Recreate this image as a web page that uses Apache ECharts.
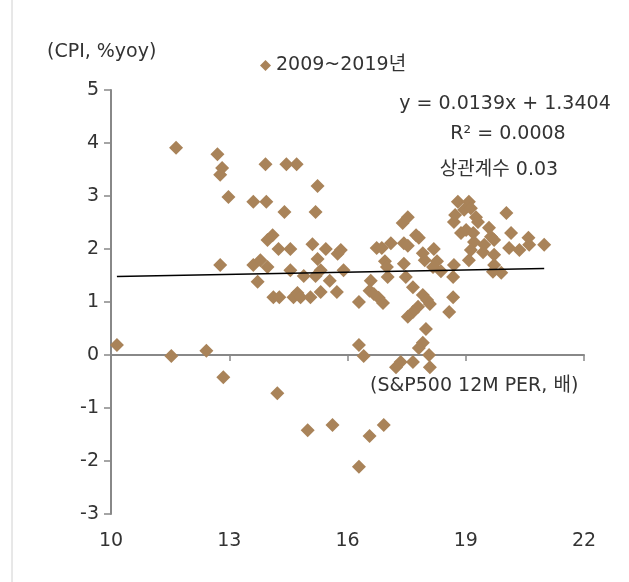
<!DOCTYPE html>
<html>
<head>
<meta charset="utf-8">
<script src="https://cdn.jsdelivr.net/npm/echarts@6/dist/echarts.min.js"></script>
<style>html,body{margin:0;padding:0;background:#fff}#c{width:629px;height:582px}</style>
</head>
<body>
<div id="c"></div>
<script>
// S&P500 12M PER (x) and CPI %yoy (y), 2009~2019
const perValues = [
10.15,11.65,11.53,12.42,12.70,12.82,12.77,12.77,12.85,12.98,
13.61,13.94,13.92,13.61,13.79,13.97,13.72,14.10,13.97,14.22,
14.25,14.12,14.27,14.40,14.45,14.71,14.55,14.55,14.63,14.73,
14.81,14.89,14.99,15.06,15.11,15.19,15.24,15.19,15.24,15.32,
15.32,15.45,15.55,15.62,15.73,15.83,15.75,15.90,16.29,16.29,
16.41,16.29,16.56,16.92,17.40,17.53,17.74,17.81,16.74,16.87,
17.10,17.43,17.53,17.91,17.96,18.19,18.27,18.17,16.95,17.00,
17.43,18.70,18.37,17.02,17.48,18.68,16.59,17.66,16.56,16.67,
16.79,16.90,17.91,18.02,18.09,18.68,17.79,17.66,17.53,18.58,
17.99,17.91,17.81,18.07,17.35,17.23,17.66,18.09,18.80,19.08,
18.96,19.13,18.70,19.26,19.31,20.03,18.88,19.01,19.19,19.21,
19.59,19.64,20.15,20.10,19.13,19.44,19.47,19.72,20.36,20.59,
20.61,20.99,19.72,19.08,19.72,19.90,19.69,18.73
];
const cpiValues = [
0.19,3.91,-0.02,0.08,3.79,3.53,3.40,1.70,-0.42,2.98,
2.89,2.89,3.60,1.70,1.79,1.66,1.38,2.26,2.17,-0.72,
2.00,1.09,1.09,2.70,3.60,3.60,2.00,1.60,1.09,1.17,
1.09,1.49,-1.42,1.09,2.09,2.70,3.19,1.49,1.81,1.60,
1.19,2.00,1.40,-1.32,1.19,1.98,1.91,1.60,1.00,0.19,
-0.02,-2.11,-1.53,-1.32,2.49,2.60,2.26,2.21,2.02,2.02,
2.11,2.11,2.06,1.92,1.79,2.00,1.77,1.66,1.77,1.66,
1.72,1.70,1.58,1.47,1.47,1.47,1.40,1.28,1.21,1.15,
1.08,0.98,1.13,1.04,0.96,1.09,0.91,0.81,0.72,0.81,
0.49,0.23,0.13,0.00,-0.13,-0.23,-0.13,-0.23,2.89,2.89,
2.74,2.77,2.51,2.60,2.51,2.68,2.30,2.36,2.30,2.13,
2.40,2.23,2.30,2.02,1.98,1.94,2.08,2.17,1.98,2.21,
2.08,2.08,1.89,1.79,1.70,1.55,1.57,2.64
];
const xTicks = [10, 13, 16, 19, 22];
const yTicks = [-3, -2, -1, 0, 1, 2, 3, 4, 5];
const trendSlope = 0.0139;
const trendIntercept = 1.3404;
const seriesName = '2009~2019년';
const eqText = 'y = 0.0139x + 1.3404';
const r2Text = 'R² = 0.0008';
const corrText = '상관계수 0.03';

const scatterData = perValues.map((x, i) => [x, cpiValues[i]]);
const xMinData = Math.min(...perValues), xMaxData = Math.max(...perValues);
const trendData = [[xMinData, trendSlope * xMinData + trendIntercept], [xMaxData, trendSlope * xMaxData + trendIntercept]];

const FONT = '"DejaVu Sans", "Noto Sans CJK KR", sans-serif';
const FS = 19;
const TC = '#333333';
const AX = '#888888';
const MK = '#a98359';

const xMin = xTicks[0], xMax = xTicks[xTicks.length - 1];
const yMin = yTicks[0], yMax = yTicks[yTicks.length - 1];

const chart = echarts.init(document.getElementById('c'), null, {renderer: 'canvas'});
chart.setOption({
  animation: false,
  textStyle: {fontFamily: FONT},
  grid: {left: 111, right: 45, top: 90, bottom: 68, containLabel: false},
  legend: {
    data: [{name: seriesName, icon: 'diamond'}],
    left: 255, top: 51, itemWidth: 11, itemHeight: 11, itemGap: 5,
    textStyle: {fontSize: FS, color: TC, fontFamily: FONT}
  },
  xAxis: [{
    // zero line of the x axis (sits on y = 0), ticks pointing down, no labels
    type: 'value', position: 'bottom', min: xMin, max: xMax, interval: 3,
    axisLine: {show: true, onZero: true, lineStyle: {color: AX, width: 2}},
    axisTick: {show: true, inside: false, length: 6, lineStyle: {color: AX, width: 1.5}},
    axisLabel: {show: false}, splitLine: {show: false}
  }, {
    // label axis at the bottom of the plot
    type: 'value', position: 'bottom', min: xMin, max: xMax, interval: 3,
    axisLine: {show: false, onZero: false}, axisTick: {show: false}, splitLine: {show: false},
    axisLabel: {fontSize: FS, color: TC, margin: 18, fontFamily: FONT}
  }],
  yAxis: {
    type: 'value', min: yMin, max: yMax, interval: 1,
    axisLine: {show: true, onZero: false, lineStyle: {color: AX, width: 2}},
    axisTick: {show: true, length: 7, lineStyle: {color: AX, width: 1.5}},
    splitLine: {show: false},
    axisLabel: {fontSize: FS, color: TC, margin: 12, fontFamily: FONT}
  },
  series: [{
    name: seriesName, type: 'scatter', xAxisIndex: 0, data: scatterData, z: 3,
    symbol: 'diamond', symbolSize: 14,
    itemStyle: {color: MK, opacity: 1}
  }, {
    name: 'trend', type: 'line', xAxisIndex: 0, data: trendData, z: 4,
    symbol: 'none', lineStyle: {color: '#000', width: 1.3}, silent: true
  }],
  graphic: [
    {type: 'line', shape: {x1: 12, y1: 0, x2: 12, y2: 582}, style: {stroke: '#d0d0d0', lineWidth: 1}},
    {type: 'text', left: 47, top: 43, style: {text: '(CPI, %yoy)', fontSize: FS, fill: TC, fontFamily: FONT}},
    {type: 'text', x: 505, y: 104, style: {text: eqText, fontSize: FS, fill: TC, fontFamily: FONT, textAlign: 'center', textVerticalAlign: 'middle'}},
    {type: 'text', x: 508, y: 134, style: {text: r2Text, fontSize: FS, fill: TC, fontFamily: FONT, textAlign: 'center', textVerticalAlign: 'middle'}},
    {type: 'text', x: 499, y: 170, style: {text: corrText, fontSize: FS, fill: TC, fontFamily: FONT, textAlign: 'center', textVerticalAlign: 'middle'}},
    {type: 'text', left: 370, top: 377, style: {text: '(S&P500 12M PER, 배)', fontSize: FS, fill: TC, fontFamily: FONT}}
  ]
});
</script>
</body>
</html>
